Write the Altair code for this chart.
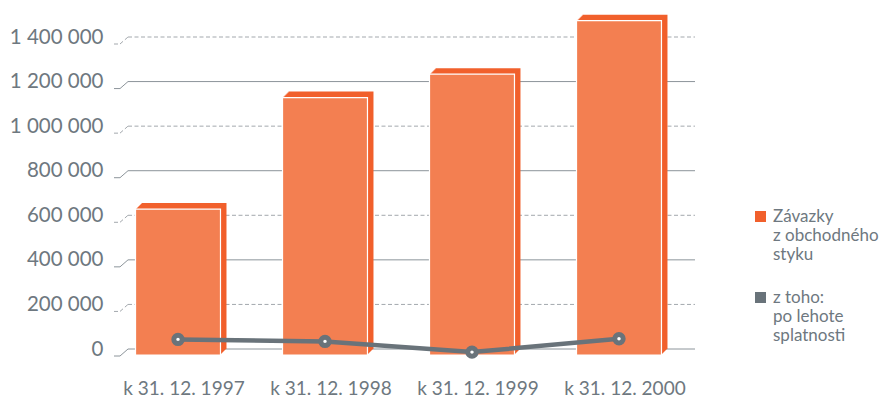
import altair as alt
import pandas as pd

categories = ["k 31. 12. 1997", "k 31. 12. 1998", "k 31. 12. 1999", "k 31. 12. 2000"]
zavazky = [655000, 1155000, 1260000, 1500000]
po_lehote = [70000, 61000, 13000, 73000]
series_names = ["Závazky|z obchodného|styku", "z toho:|po lehote|splatnosti"]
tick_values = [0, 200000, 400000, 600000, 800000, 1000000, 1200000, 1400000]

FONT = "Lato"
TEXT = "#6E7880"
FRONT = "#F37F51"
SIDE = "#F1602C"
GREY = "#69737A"
GRID_SOLID = "#8C949A"
GRID_DASH = "#A3A8AD"
DEPTH = 6

df = pd.DataFrame({"cat": categories, "v": zavazky, "p": po_lehote,
                   "series": [series_names[0]] * len(categories)})
solid_df = pd.DataFrame({"t": tick_values[0::2]})
dashed_df = pd.DataFrame({"t": tick_values[1::2]})

yscale = alt.Scale(domain=[0, 1400000], nice=False, zero=True)
yaxis = alt.Axis(values=tick_values,
                 labelExpr="replace(replace(format(datum.value, ','), ',', ' '), ',', ' ')",
                 grid=False, ticks=False, domain=False, labelFont=FONT, labelFontSize=20.5,
                 labelColor=TEXT, labelPadding=25, title=None)
xscale = alt.Scale(domain=categories, range=[0, 553], paddingInner=0.422, paddingOuter=0.092)
xaxis = alt.Axis(grid=False, ticks=False, tickSize=0, domain=False, labelAngle=0,
                 labelFont=FONT, labelFontSize=19, labelColor=TEXT, labelPadding=39,
                 labelBaseline="middle", title=None)


def rule_layers(data, color, dash=None):
    extra = {"strokeDash": dash} if dash else {}
    base = alt.Chart(data)
    y = alt.Y("t:Q", scale=yscale, axis=yaxis)
    grid = base.mark_rule(color=color, strokeWidth=1, **extra).encode(
        x=alt.value(0), x2=alt.value(567), y=y)
    stub = base.mark_rule(color=color, strokeWidth=1, yOffset=7, **extra).encode(
        x=alt.value(-14), x2=alt.value(-8), y=y)
    slant = base.mark_rule(color=color, strokeWidth=1, yOffset=7, y2Offset=0, **extra).encode(
        x=alt.value(-8), x2=alt.value(0), y=y, y2=alt.Y2("t"))
    return [grid, stub, slant]


layers = []
layers += rule_layers(solid_df, GRID_SOLID)
layers += rule_layers(dashed_df, GRID_DASH, [4, 2.5])

xenc = alt.X("cat:N", scale=xscale, axis=xaxis, sort=categories)
yenc = alt.Y("v:Q", scale=yscale, axis=yaxis)

legend = alt.Legend(orient="none", legendX=624, legendY=163, title=None,
                    symbolType="M-1,0.45H1V2.45H-1Z", symbolSize=121, symbolStrokeWidth=0,
                    labelExpr="split(datum.label, '|')", labelBaseline="top",
                    labelFont=FONT, labelFontSize=17, labelColor=TEXT, labelOffset=4,
                    labelLimit=300, rowPadding=18, padding=0)

for k in range(DEPTH):
    enc = dict(x=xenc, y=yenc)
    if k == 0:
        enc["color"] = alt.Color("series:N",
                                 scale=alt.Scale(domain=series_names, range=[SIDE, GREY]),
                                 legend=legend)
    else:
        enc["fill"] = alt.value(SIDE)
    layers.append(alt.Chart(df).mark_bar(xOffset=-k, x2Offset=-k, yOffset=k, y2Offset=k,
                                         opacity=1).encode(**enc))

layers.append(alt.Chart(df).mark_bar(fill=FRONT, stroke="#FFFFFF", strokeWidth=1.2,
                                     xOffset=-DEPTH, x2Offset=-DEPTH,
                                     yOffset=DEPTH, y2Offset=DEPTH).encode(x=xenc, y=yenc))

ypenc = alt.Y("p:Q", scale=yscale, axis=yaxis)
layers.append(alt.Chart(df).mark_line(color=GREY, strokeWidth=4.5,
                                      xOffset=-DEPTH, yOffset=DEPTH).encode(x=xenc, y=ypenc))
layers.append(alt.Chart(df).mark_point(filled=True, fill="#FFFFFF", stroke=GREY, strokeWidth=5,
                                       size=70, opacity=1,
                                       xOffset=-DEPTH, yOffset=DEPTH).encode(x=xenc, y=ypenc))

chart = alt.layer(*layers).properties(
    width=567, height=312,
    autosize=alt.AutoSizeParams(type="none"),
    padding={"left": 120, "top": 29, "right": 186, "bottom": 48},
    background="#FFFFFF",
).configure_view(stroke=None)

chart.save("out.html", embed_options={"renderer": "svg", "actions": False})
